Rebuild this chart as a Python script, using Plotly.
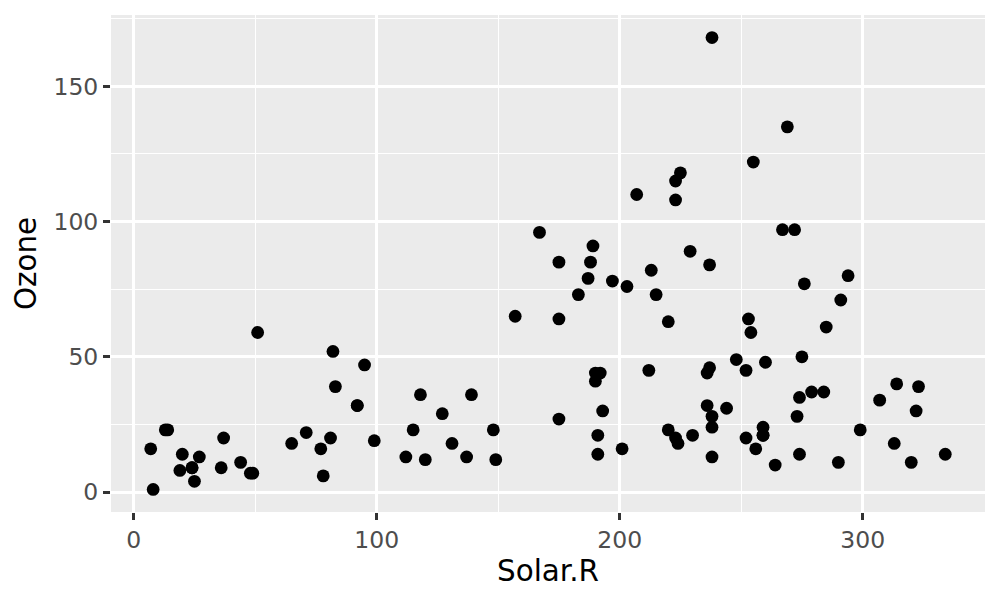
import plotly.graph_objects as go

solar_r = [190, 118, 149, 313, 299, 99, 19, 256, 290, 274, 65, 334, 307, 78, 322, 44, 8, 320, 25, 92,
           13, 252, 223, 279, 127, 291, 323, 148, 191, 284, 37, 120, 137, 269, 248, 236, 175, 314, 276, 267,
           272, 175, 264, 175, 48, 260, 274, 285, 187, 220, 7, 294, 223, 81, 82, 213, 275, 253, 254, 83,
           24, 77, 255, 229, 207, 192, 273, 157, 71, 51, 115, 244, 190, 259, 36, 212, 238, 215, 203, 225,
           237, 188, 167, 197, 183, 189, 95, 92, 252, 220, 230, 259, 236, 259, 238, 24, 112, 237, 224, 27,
           238, 201, 238, 14, 139, 49, 20, 193, 191, 131, 223]
ozone = [41, 36, 12, 18, 23, 19, 8, 16, 11, 14, 18, 14, 34, 6, 30, 11, 1, 11, 4, 32,
         23, 45, 115, 37, 29, 71, 39, 23, 21, 37, 20, 12, 13, 135, 49, 32, 64, 40, 77, 97,
         97, 85, 10, 27, 7, 48, 35, 61, 79, 63, 16, 80, 108, 20, 52, 82, 50, 64, 59, 39,
         9, 16, 122, 89, 110, 44, 28, 65, 22, 59, 23, 31, 44, 21, 9, 45, 168, 73, 76, 118,
         84, 85, 96, 78, 73, 91, 47, 32, 20, 23, 21, 24, 44, 21, 28, 9, 13, 46, 18, 13,
         24, 16, 13, 23, 36, 7, 14, 30, 14, 18, 20]

x_ticks = [0, 100, 200, 300]
y_ticks = [0, 50, 100, 150]

fig = go.Figure(go.Scatter(
    x=solar_r, y=ozone, mode="markers",
    marker=dict(color="black", size=12.8, line=dict(width=0)),
))

axis_common = dict(
    showgrid=True, gridcolor="white", gridwidth=2.6,
    zeroline=False, showline=False,
    ticks="outside", ticklen=7, tickwidth=2.5, tickcolor="#333333",
    tickfont=dict(family="DejaVu Sans", size=23.5, color="#4D4D4D"),
    title_font=dict(family="DejaVu Sans", size=29.4, color="black"),
)

xr = [min(solar_r) - 0.05 * (max(solar_r) - min(solar_r)), max(solar_r) + 0.05 * (max(solar_r) - min(solar_r))]
yr = [min(ozone) - 0.05 * (max(ozone) - min(ozone)), max(ozone) + 0.05 * (max(ozone) - min(ozone))]

fig.update_xaxes(**axis_common, range=xr, tickvals=x_ticks, title_text="Solar.R",
                 title_standoff=3,
                 minor=dict(showgrid=True, gridcolor="white", gridwidth=1.3, dtick=50, tick0=0, ticks=""))
fig.update_yaxes(**axis_common, range=yr, tickvals=y_ticks, title_text="Ozone",
                 title_standoff=8,
                 minor=dict(showgrid=True, gridcolor="white", gridwidth=1.3, dtick=25, tick0=0, ticks=""))

fig.update_layout(
    width=1000, height=600,
    margin=dict(l=111, r=15, t=15, b=88),
    plot_bgcolor="#EBEBEB", paper_bgcolor="white",
    showlegend=False,
    font=dict(family="DejaVu Sans"),
)

fig.write_html("out.html", config={"displayModeBar": False},
               post_script="document.body.style.margin='0';")
